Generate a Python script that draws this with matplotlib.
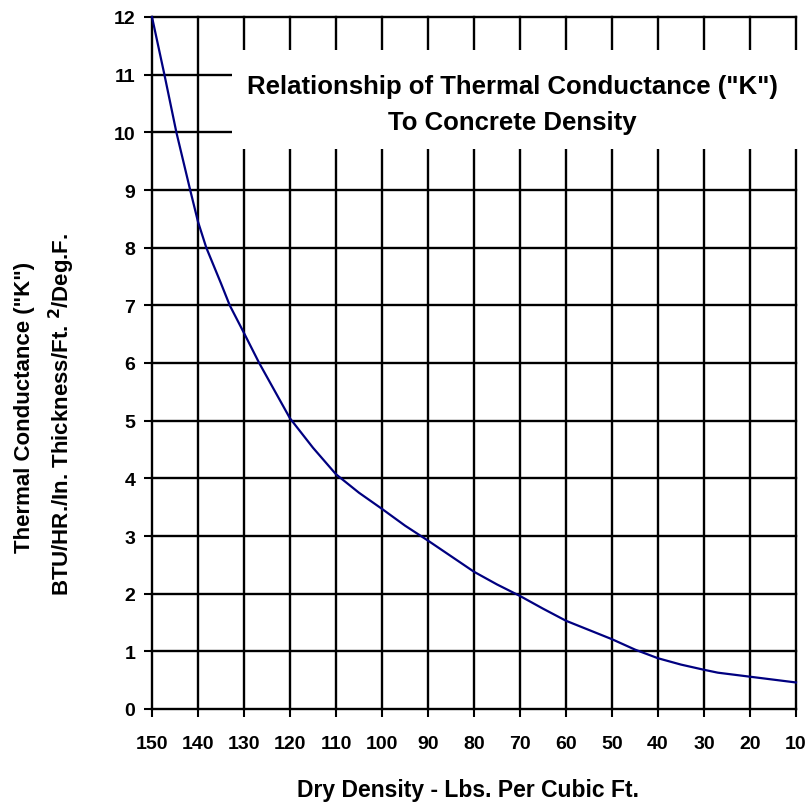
import matplotlib
matplotlib.use("Agg")
import matplotlib.pyplot as plt
from matplotlib.patches import Rectangle

plt.rcParams['font.family'] = ['Liberation Sans', 'DejaVu Sans']
plt.rcParams['font.weight'] = 'bold'

# Data
density = [150, 147.3, 144.7, 141.7, 140, 138.2, 135, 133.1, 130, 126.7, 120, 115, 110, 105,
           100, 95, 90, 85, 80, 75, 70, 65, 60, 55, 50, 45, 40, 35, 30, 27, 20, 15, 10]
k_value = [12.0, 11.0, 10.0, 9.0, 8.45, 8.0, 7.38, 7.0, 6.52, 6.0, 5.04, 4.53, 4.07, 3.75,
           3.47, 3.18, 2.92, 2.65, 2.38, 2.16, 1.96, 1.74, 1.53, 1.37, 1.21, 1.03, 0.88, 0.77,
           0.68, 0.63, 0.56, 0.51, 0.46]

x_ticks = [150, 140, 130, 120, 110, 100, 90, 80, 70, 60, 50, 40, 30, 20, 10]
y_ticks = list(range(0, 13))

title_line1 = 'Relationship of Thermal Conductance ("K")'
title_line2 = 'To Concrete Density'
xlabel_text = 'Dry Density - Lbs. Per Cubic Ft.'
ylabel_line1 = 'Thermal Conductance ("K")'
ylabel_line2 = 'BTU/HR./In. Thickness/Ft. $\\mathbf{^{2}}$/Deg.F.'

fig = plt.figure(figsize=(8.08, 8.04), dpi=100)
ax = fig.add_axes([152/808, 1 - 710/804, (796-152)/808, (710-18)/804])

ax.set_xlim(150, 10)
ax.set_ylim(0, 12)

for s in ax.spines.values():
    s.set_visible(False)

for xv in x_ticks:
    ax.axvline(xv, color='black', lw=1.7, zorder=1, clip_on=False)
for yv in y_ticks:
    ax.axhline(yv, color='black', lw=1.7, zorder=1, clip_on=False)

# white title box covering the grid
ax.add_patch(Rectangle((9.0, 9.71), 132.7 - 9.0, 11.43 - 9.71, facecolor='white',
                       edgecolor='none', zorder=3, clip_on=False))

ax.plot(density, k_value, color='#000080', lw=1.6, zorder=5, clip_on=False,
        solid_joinstyle='round')

ax.set_xticks(x_ticks)
ax.set_xticklabels([str(v) for v in x_ticks])
ax.set_yticks(y_ticks)
ax.set_yticklabels([str(v) for v in y_ticks])
ax.tick_params(axis='both', direction='out', length=6, width=1.5, labelsize=14)
ax.tick_params(axis='x', pad=13)
ax.tick_params(axis='y', pad=6)
for lab in ax.get_xticklabels() + ax.get_yticklabels():
    lab.set_fontweight('bold')

fig.text(512/808, 1 - 94/804, title_line1, ha='center', va='baseline',
         fontsize=18.5, fontweight='bold', zorder=6)
fig.text(512/808, 1 - 130/804, title_line2, ha='center', va='baseline',
         fontsize=18.5, fontweight='bold', zorder=6)

fig.text(468/808, 1 - 797/804, xlabel_text, ha='center', va='baseline',
         fontsize=16.5, fontweight='bold')
fig.text(25/808, 1 - 407/804, ylabel_line1, ha='center', va='center', rotation=90,
         fontsize=16, fontweight='bold')
fig.text(62/808, 1 - 414/804, ylabel_line2, ha='center', va='center', rotation=90,
         fontsize=16, fontweight='bold')

fig.savefig('out.png', dpi=100, facecolor='white')
